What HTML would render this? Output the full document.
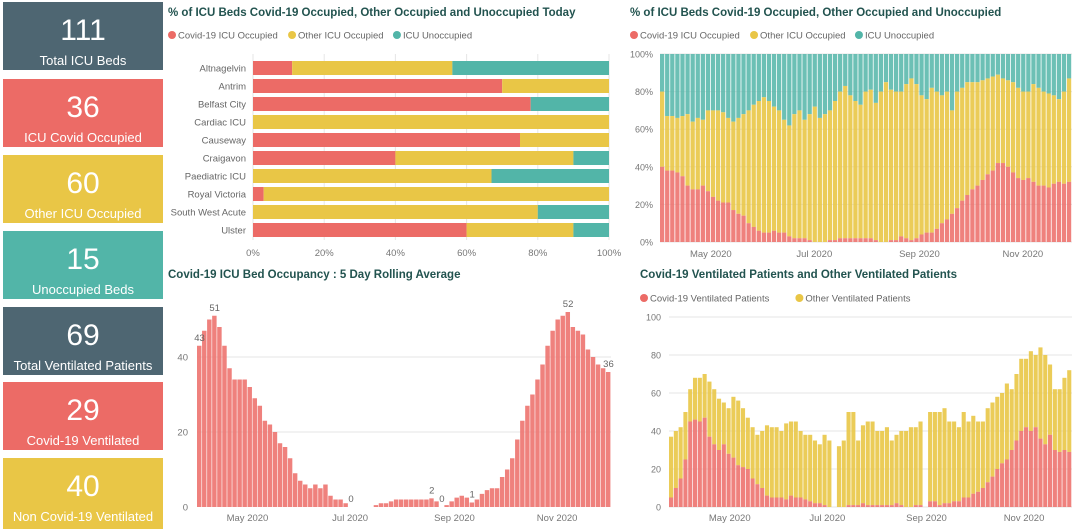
<!DOCTYPE html>
<html><head><meta charset="utf-8">
<style>
html,body{margin:0;padding:0;background:#fff;width:1080px;height:529px;overflow:hidden;font-family:"Liberation Sans",sans-serif;}
svg text{font-family:"Liberation Sans",sans-serif;}
</style></head>
<body>
<svg id="s" width="1080" height="529" viewBox="0 0 1080 529" xmlns="http://www.w3.org/2000/svg">
<g id="cards"></g>
<g id="c1"></g>
<g id="c2"></g>
<g id="c3"></g>
<g id="c4"></g>
</svg>
<script>
// KPI cards
const cardValues=["111","36","60","15","69","29","40"];
const cardLabels=["Total ICU Beds","ICU Covid Occupied","Other ICU Occupied","Unoccupied Beds","Total Ventilated Patients","Covid-19 Ventilated","Non Covid-19 Ventilated"];
// chart 1: today per hospital
const hospitals=["Altnagelvin","Antrim","Belfast City","Cardiac ICU","Causeway","Craigavon","Paediatric ICU","Royal Victoria","South West Acute","Ulster"];
const hospCovid=[11,70,78,0,75,40,0,3,0,60];
const hospOther=[45,30,0,100,25,50,67,97,80,30];
const hospUnocc=[44,0,22,0,0,10,33,0,20,10];
const pctTicks=["0%","20%","40%","60%","80%","100%"];
// chart 2: % trend, 3-day bins Apr 1 - Nov 30
const trendCovid=[40,38,38,37,35,30,28,28,30,27,24,22,21,21,17,15,14,10,8,6,5,5,6,5,5,3,2,2,2,1,0,0,0,1,1,2,2,2,2,2,2,2,1,0,0,1,1,3,2,1,2,4,5,5,7,10,12,15,18,22,25,28,30,33,36,38,42,42,40,37,34,33,34,32,30,30,29,31,32,31,32];
const trendOther=[40,29,29,29,32,38,36,38,35,43,46,48,48,45,47,51,54,60,65,69,72,70,66,65,60,59,66,68,63,67,72,66,68,69,74,78,81,76,73,71,78,79,73,80,85,80,79,77,82,86,82,74,71,77,73,68,68,55,62,60,60,57,55,53,51,50,47,45,46,48,48,47,46,52,52,50,50,47,44,49,55];
const monthLabels=["May 2020","Jul 2020","Sep 2020","Nov 2020"];
const monthDay=[30,91,153,214]; // day offset from Apr 1
// chart 3: 5-day rolling avg, 3-day bins Apr 1 - Nov 29
const rolling=[43,47,50,51,48,43,37,34,34,34,32,29,27,23,22,20,17,16,13,9,7,6,5,6,5,6,3,2,2,1,0,0,0,0,0,0.5,1,1,1.5,2,2,2,2,2,2,2,2.3,1.5,0,0.5,1.5,2.5,3,2.5,1.2,2,3.5,4.5,5,5,8,10,13,18,23,27,30,34,38,43,47,50,51,52,48,47,46,42,40,38,37,36];
const rollingLabelIdx=[0,3,30,46,48,54,73,81];
const rollTicks=[0,20,40];
// chart 4: ventilated, 3-day bins Mar 24 - Nov 30
const ventCovid=[5,10,15,25,45,46,45,47,37,33,30,33,28,26,22,21,20,15,12,10,6,5,5,5,4,6,5,5,4,3,2,2,1,0,0,0,0,1,1,1,2,1,1,1,1,1,1,2,1,0,0,1,1,0,3,3,1,2,2,3,3,5,5,7,8,10,13,16,20,23,25,30,35,40,42,40,42,36,33,38,30,29,30,29];
const ventOther=[32,30,27,25,17,22,23,23,29,29,27,22,24,32,34,31,27,27,26,30,37,37,37,35,40,39,40,35,34,35,33,31,37,35,0,32,35,49,49,34,41,44,44,39,39,41,34,36,39,40,42,41,44,0,47,47,49,50,43,42,39,45,40,41,37,35,39,39,38,37,40,32,35,38,36,42,38,48,47,37,32,33,38,43];
const ventTicks=[0,20,40,60,80,100];
const ventMonthDay=[38,99,161,222]; // from Mar 24

const RED="#ec6b66",YEL="#e9c646",TEAL="#52b5a8",SLATE="#4e6672",TITLE="#22534f",GREY="#777",GRID="#e6e6e6";
const NS="http://www.w3.org/2000/svg";
function el(p,tag,attrs){const e=document.createElementNS(NS,tag);for(const k in attrs)e.setAttribute(k,attrs[k]);p.appendChild(e);return e;}
function txt(p,x,y,s,attrs){const t=el(p,"text",Object.assign({x:x,y:y},attrs||{}));t.textContent=s;return t;}

// cards
const cards=document.getElementById("cards");
const cardColors=[SLATE,RED,YEL,TEAL,SLATE,RED,YEL];
const cardTops=[2,79,155,231,307,382,458];
cardValues.forEach((v,i)=>{
  const g=el(cards,"g",{});
  
  
  el(g,"rect",{x:3,y:cardTops[i],width:160,height:i==6?71:68,fill:cardColors[i]});
  txt(g,83,cardTops[i]+38,v,{fill:"#fff","font-size":30,"text-anchor":"middle"});
  txt(g,83,cardTops[i]+63,cardLabels[i],{fill:"#fff","font-size":13,"text-anchor":"middle"});
});

function legend(p,x,y,items){
  let cx=x;
  items.forEach(it=>{
    const g=el(p,"g",{});
    
    
    el(g,"circle",{cx:cx+4,cy:y,r:4,fill:it[1]});
    txt(g,cx+10,y+3.5,it[0],{fill:"#666","font-size":9.5});
    cx+=14+it[0].length*5.05;
  });
}
function title(p,x,y,s){const t=txt(p,x,y,s,{fill:TITLE,"font-size":11.5,"font-weight":"bold"});}

// chart 1
(function(){
  const g=document.getElementById("c1");
  title(g,168,16,"% of ICU Beds Covid-19 Occupied, Other Occupied and Unoccupied Today");
  legend(g,168,35,[["Covid-19 ICU Occupied",RED],["Other ICU Occupied",YEL],["ICU Unoccupied",TEAL]]);
  const x0=253,x1=609,xs=v=>x0+(x1-x0)*v/100;
  pctTicks.forEach((t,i)=>{const x=xs(i*20);el(g,"line",{x1:x,x2:x,y1:54,y2:240,stroke:GRID});txt(g,x,256,t,{fill:GREY,"font-size":9.5,"text-anchor":"middle"});});
  hospitals.forEach((h,i)=>{
    const y=61+i*18;
    txt(g,246,y+10.5,h,{fill:"#666","font-size":9.5,"text-anchor":"end"});
    let acc=0;
    [[hospCovid[i],RED],[hospOther[i],YEL],[hospUnocc[i],TEAL]].forEach(s=>{
      if(s[0]>0){const r=el(g,"rect",{x:xs(acc),y:y,width:xs(acc+s[0])-xs(acc),height:14,fill:s[1]});}
      acc+=s[0];
    });
  });
})();

// chart 2
(function(){
  const g=document.getElementById("c2");
  title(g,630,16,"% of ICU Beds Covid-19 Occupied, Other Occupied and Unoccupied");
  legend(g,630,35,[["Covid-19 ICU Occupied",RED],["Other ICU Occupied",YEL],["ICU Unoccupied",TEAL]]);
  const x0=660,x1=1072,y0=242,y1=54,n=trendCovid.length,days=n*3;
  const ys=v=>y0-(y0-y1)*v/100, xd=d=>x0+(x1-x0)*d/days;
  pctTicks.forEach((t,i)=>{const y=ys(i*20);el(g,"line",{x1:x0,x2:x1,y1:y,y2:y,stroke:GRID});txt(g,653,y+3.5,t,{fill:GREY,"font-size":9,"text-anchor":"end"});});
  monthLabels.forEach((m,i)=>txt(g,xd(monthDay[i]),257,m,{fill:GREY,"font-size":9.5,"text-anchor":"middle"}));
  const bw=(x1-x0)/n;
  for(let i=0;i<n;i++){
    const x=x0+i*bw,c=trendCovid[i],o=trendOther[i];
    const b=el(g,"rect",{x:x,y:ys(100),width:bw-0.8,height:ys(c+o)-ys(100),fill:TEAL,opacity:0.85});
    
    const b2=el(g,"rect",{x:x,y:ys(c+o),width:bw-0.8,height:ys(c)-ys(c+o),fill:YEL,opacity:0.9});
    
    const b3=el(g,"rect",{x:x,y:ys(c),width:bw-0.8,height:y0-ys(c),fill:RED,opacity:0.85});
    
  }
})();

// chart 3
(function(){
  const g=document.getElementById("c3");
  title(g,168,278,"Covid-19 ICU Bed Occupancy : 5 Day Rolling Average");
  const x0=197,x1=611,y0=507,n=rolling.length,days=n*3;
  const ys=v=>y0-3.75*v, xd=d=>x0+(x1-x0)*d/days;
  rollTicks.forEach(t=>{const y=ys(t);if(t>0)el(g,"line",{x1:x0,x2:x1,y1:y,y2:y,stroke:GRID});txt(g,188,y+3.5,String(t),{fill:GREY,"font-size":9.5,"text-anchor":"end"});});
  monthLabels.forEach((m,i)=>txt(g,xd(monthDay[i]),521,m,{fill:GREY,"font-size":9.5,"text-anchor":"middle"}));
  const bw=(x1-x0)/n;
  rolling.forEach((v,i)=>{
    const b=el(g,"rect",{x:x0+i*bw,y:ys(v),width:bw-0.6,height:y0-ys(v),fill:RED,opacity:0.85});
    
  });
  rollingLabelIdx.forEach(i=>{const t=txt(g,x0+i*bw+bw/2,ys(rolling[i])-5,String(Math.round(rolling[i])),{fill:"#666","font-size":9.5,"text-anchor":"middle"});});
})();

// chart 4
(function(){
  const g=document.getElementById("c4");
  title(g,640,278,"Covid-19 Ventilated Patients and Other Ventilated Patients");
  legend(g,640,298,[["Covid-19 Ventilated Patients",RED],["Other Ventilated Patients",YEL]]);
  const x0=669,x1=1072,y0=507,n=ventCovid.length,days=n*3;
  const ys=v=>y0-1.9*v, xd=d=>x0+(x1-x0)*d/days;
  ventTicks.forEach(t=>{const y=ys(t);el(g,"line",{x1:x0,x2:x1,y1:y,y2:y,stroke:GRID});txt(g,661,y+3.5,String(t),{fill:GREY,"font-size":9,"text-anchor":"end"});});
  monthLabels.forEach((m,i)=>txt(g,xd(ventMonthDay[i]),521,m,{fill:GREY,"font-size":9.5,"text-anchor":"middle"}));
  const bw=(x1-x0)/n;
  for(let i=0;i<n;i++){
    const c=ventCovid[i],o=ventOther[i],x=x0+i*bw;
    const b=el(g,"rect",{x:x,y:ys(c+o),width:bw-0.7,height:ys(c)-ys(c+o),fill:YEL,opacity:0.9});
    
    const b2=el(g,"rect",{x:x,y:ys(c),width:bw-0.7,height:y0-ys(c),fill:RED,opacity:0.85});
    
  }
})();
</script>
</body></html>
